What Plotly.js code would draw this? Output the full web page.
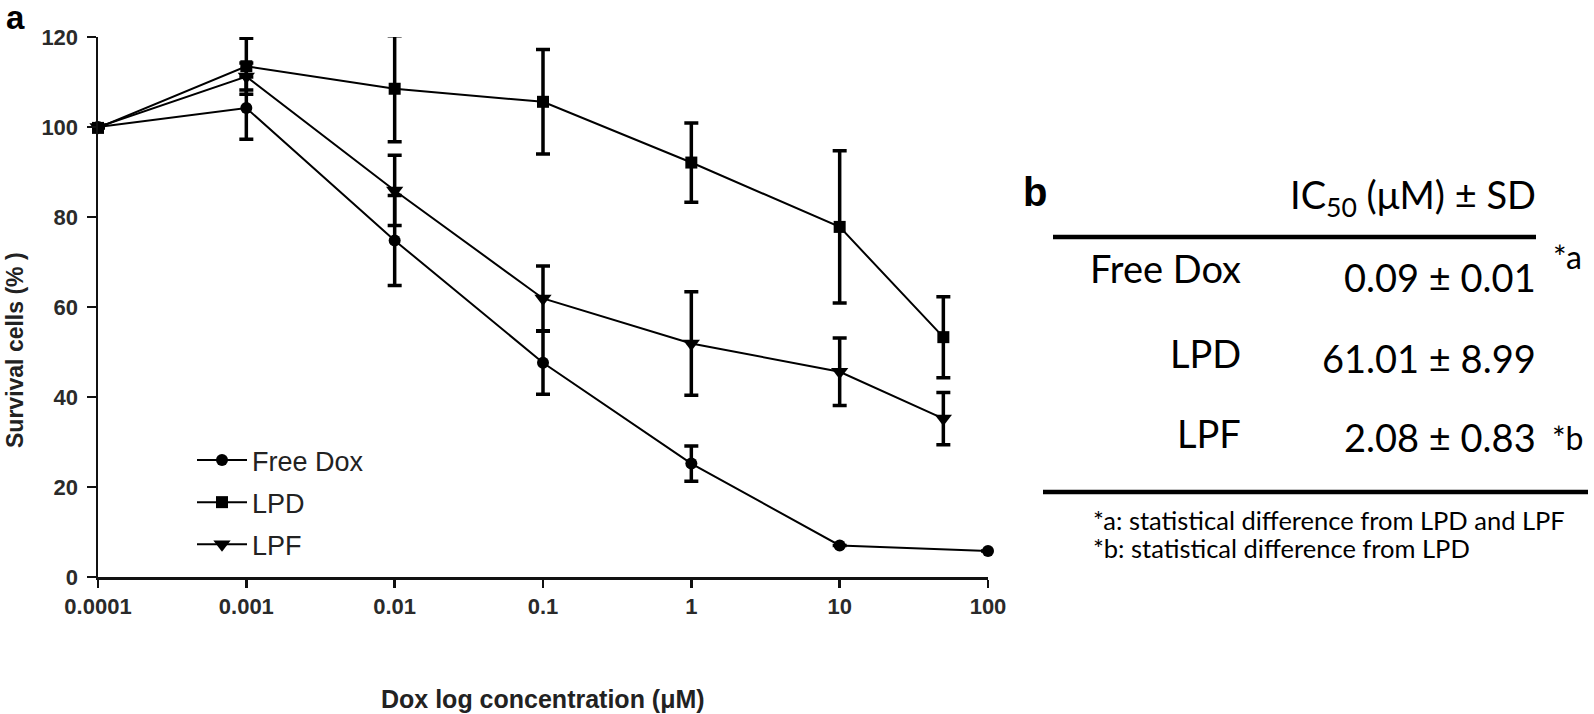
<!DOCTYPE html>
<html>
<head>
<meta charset="utf-8">
<script src="https://cdn.plot.ly/plotly-3.0.1.min.js"></script>
<style>html,body{margin:0;padding:0;background:#fff;}</style>
</head>
<body>
<div id="chart" style="width:1594px;height:714px;"></div>
<script>
// ---- data ----
const concFree = [0.0001, 0.001, 0.01, 0.1, 1, 10, 100];
const concLip  = [0.0001, 0.001, 0.01, 0.1, 1, 10, 50];
const freeDox    = [100, 104.2, 74.8, 47.6, 25.2, 7.0, 5.8];
const freeDoxErr = [0, 6.9, 10.0, 7.0, 3.9, 0, 0];
const lpd    = [99.8, 113.5, 108.5, 105.6, 92.1, 77.8, 53.3];
const lpdErr = [0, 6.2, 11.8, 11.6, 8.8, 16.9, 9.0];
const lpf    = [100, 111.2, 85.9, 61.9, 51.9, 45.6, 35.2];
const lpfErr = [0, 3.0, 7.8, 7.2, 11.5, 7.5, 5.8];
const xTickVals = [0.0001, 0.001, 0.01, 0.1, 1, 10, 100];
const xTickText = ["0.0001", "0.001", "0.01", "0.1", "1", "10", "100"];
const yTickVals = [0, 20, 40, 60, 80, 100, 120];

const tableHeader = "IC<sub>50</sub> (μM) ± SD";
const tableRows = ["Free Dox", "LPD", "LPF"];
const tableValues = ["0.09 ± 0.01", "61.01 ± 8.99", "2.08 ± 0.83"];
const tableMarks = ["*a", "", "*b"];
const footnotes = ["*a: statistical difference from LPD and LPF", "*b: statistical difference from LPD"];

// ---- layout helpers (pixel -> paper) ----
const W = 1594, H = 714;
const L = 98, R = 988, T = 37, B = 577;
const px = x => (x - L) / (R - L);
const py = y => (B - y) / (B - T);

function trace(name, x, y, err, symbol, size, group) {
  return {
    type: 'scatter', mode: 'lines+markers', name: name, x: x, y: y,
    legendgroup: group,
    line: {color: '#000', width: 2},
    marker: {color: '#000', symbol: symbol, size: size},
    error_y: {type: 'data', array: err, visible: true, color: '#000', thickness: 3.5, width: 7},
    cliponaxis: false
  };
}

const data = [
  trace('Free Dox', concFree, freeDox, freeDoxErr, 'circle', 12, 'g1'),
  trace('LPD', concLip, lpd, lpdErr, 'square', 12, 'g2'),
  trace('LPF', concLip, lpf, lpfErr, 'triangle-down', 15, 'g3')
];

const tblFont = {family: 'Lato', size: 38, color: '#000'};
const annotations = [
  {text: 'a', x: px(4), y: py(17), xref: 'paper', yref: 'paper', xanchor: 'left', yanchor: 'middle', showarrow: false,
   font: {family: 'Liberation Sans', size: 33, weight: 'bold', color: '#000'}},
  {text: 'Survival cells (% )', x: px(15), y: py(350), xref: 'paper', yref: 'paper', xanchor: 'center', yanchor: 'middle', textangle: -90, showarrow: false,
   font: {family: 'Liberation Sans', size: 23, weight: 'bold', color: '#222'}},
  {text: 'Dox log concentration (μM)', x: px(543), y: py(699), xref: 'paper', yref: 'paper', xanchor: 'center', yanchor: 'middle', showarrow: false,
   font: {family: 'Liberation Sans', size: 25, weight: 'bold', color: '#222'}},
  {text: 'b', x: px(1021), y: py(192), xref: 'paper', yref: 'paper', xanchor: 'left', yanchor: 'middle', showarrow: false,
   font: {family: 'Liberation Sans', size: 40, weight: 'bold', color: '#000'}},
  {text: tableHeader, x: px(1538), y: py(197), xref: 'paper', yref: 'paper', xanchor: 'right', yanchor: 'middle', showarrow: false, font: tblFont}
];
const rowY = [268, 353, 433];
const valY = [277, 358, 437];
tableRows.forEach((r, i) => {
  annotations.push({text: r, x: px(1243), y: py(rowY[i]), xref: 'paper', yref: 'paper', xanchor: 'right', yanchor: 'middle', showarrow: false, font: tblFont});
  annotations.push({text: tableValues[i], x: px(1538), y: py(valY[i]), xref: 'paper', yref: 'paper', xanchor: 'right', yanchor: 'middle', showarrow: false, font: tblFont});
});
annotations.push({text: tableMarks[0], x: px(1551), y: py(256), xref: 'paper', yref: 'paper', xanchor: 'left', yanchor: 'middle', showarrow: false, font: {family: 'Lato', size: 32, color: '#000'}});
annotations.push({text: tableMarks[2], x: px(1550), y: py(437), xref: 'paper', yref: 'paper', xanchor: 'left', yanchor: 'middle', showarrow: false, font: {family: 'Lato', size: 32, color: '#000'}});
footnotes.forEach((f, i) => {
  annotations.push({text: f, x: px(1091), y: py(520 + i * 28), xref: 'paper', yref: 'paper', xanchor: 'left', yanchor: 'middle', showarrow: false, font: {family: 'Lato', size: 25.5, color: '#000'}});
});

const shapes = [
  {type: 'line', xref: 'paper', yref: 'paper', x0: px(1053), x1: px(1536), y0: py(237), y1: py(237), line: {color: '#000', width: 4.5}},
  {type: 'line', xref: 'paper', yref: 'paper', x0: px(1043), x1: px(1588), y0: py(492), y1: py(492), line: {color: '#000', width: 4.5}}
];

const axisFont = {family: 'Liberation Sans', size: 22, weight: 'bold', color: '#2a2a2a'};
const layout = {
  width: W, height: H,
  margin: {l: L, r: W - R, t: T, b: H - B, pad: 0},
  paper_bgcolor: '#fff', plot_bgcolor: '#fff',
  showlegend: true,
  legend: {x: px(192), y: py(436), xanchor: 'left', yanchor: 'top', bgcolor: 'rgba(0,0,0,0)',
           font: {family: 'Liberation Sans', size: 27, color: '#222'}, tracegroupgap: 4, itemwidth: 50},
  xaxis: {type: 'log', range: [-4, 2], tickvals: xTickVals, ticktext: xTickText,
          showline: true, linecolor: '#111', linewidth: 3, ticks: 'outside', ticklen: 8, tickwidth: 2.5, tickcolor: '#111',
          showgrid: false, zeroline: false, tickfont: axisFont, ticklabelstandoff: 0},
  yaxis: {range: [0, 120], tickvals: yTickVals,
          showline: true, linecolor: '#111', linewidth: 2.5, ticks: 'outside', ticklen: 9, tickwidth: 2.5, tickcolor: '#111',
          showgrid: false, zeroline: false, tickfont: axisFont, ticklabelstandoff: 4},
  annotations: annotations,
  shapes: shapes
};

Plotly.newPlot('chart', data, layout, {displayModeBar: false, staticPlot: true});
</script>
</body>
</html>
